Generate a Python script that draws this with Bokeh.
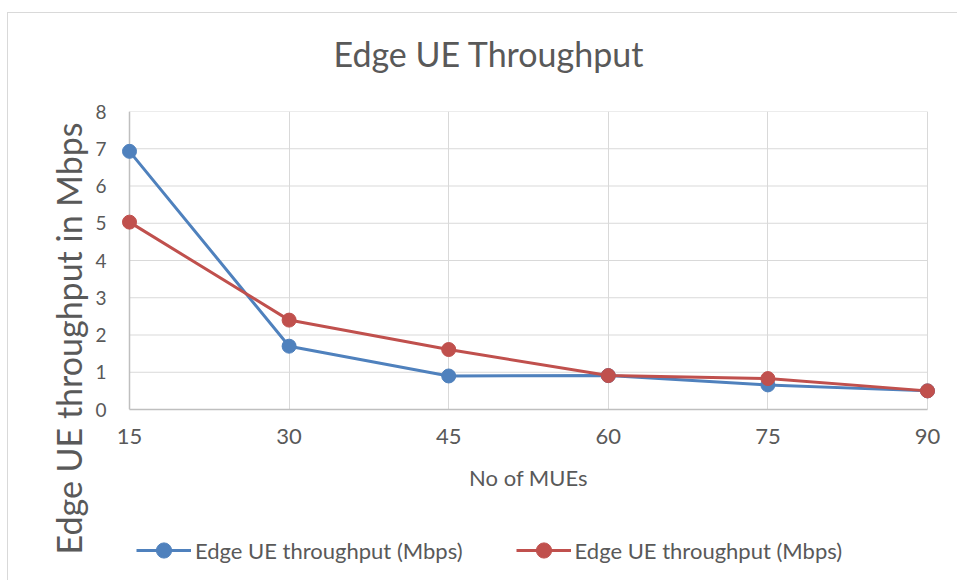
import math
from bokeh.plotting import figure
from bokeh.layouts import column, row
from bokeh.models import Label, Legend, LegendItem, FixedTicker, Range1d, Span
from bokeh.embed import file_html
from bokeh.resources import INLINE

# Number of macro UEs and the measured edge-UE throughput of two runs
mues = [15, 30, 45, 60, 75, 90]
throughput_a = [6.93, 1.70, 0.90, 0.91, 0.66, 0.50]
throughput_b = [5.03, 2.40, 1.61, 0.91, 0.83, 0.50]
series_labels = ["Edge UE throughput (Mbps)", "Edge UE throughput (Mbps)"]
x_ticks = [15, 30, 45, 60, 75, 90]
y_ticks = [0, 1, 2, 3, 4, 5, 6, 7, 8]

title_text = "Edge UE Throughput"
x_label = "No of MUEs"
y_label = "Edge UE throughput in Mbps"

FONT = "Lato"
TEXT = "#595959"
BLUE = "#4f81bd"
RED = "#c0504d"
GRID = "#d9d9d9"
AXIS = "#bfbfbf"
colors = [BLUE, RED]
series = [throughput_a, throughput_b]

# borders of the main chart; the legend strip below shares them
BORDER_L, BORDER_R = 28, 21


def blank(width, height, **borders):
    f = figure(width=width, height=height, output_backend="svg",
               toolbar_location=None, x_range=Range1d(0, 1), y_range=Range1d(0, 1),
               outline_line_color=None, **borders)
    f.axis.visible = False
    f.grid.visible = False
    return f


# ---- title strip ----
title_fig = blank(950, 78, min_border=0)
title_fig.add_layout(Label(x=325, y=38, x_units="screen", y_units="screen",
                           text=title_text, text_font=FONT, text_font_size="34px",
                           text_color=TEXT, text_align="left", text_baseline="middle"))

# ---- vertical axis title strip ----
ylab_fig = blank(83, 490, min_border=0)
ylab_fig.add_layout(Label(x=60, y=243, x_units="screen", y_units="screen",
                          text=y_label, text_font=FONT, text_font_size="34px",
                          text_color=TEXT, text_align="center", text_baseline="middle",
                          angle=math.pi / 2))

# ---- main chart ----
pad = 0.94  # keeps end markers clear of the frame edge
p = figure(width=867, height=435, output_backend="svg", toolbar_location=None,
           x_range=Range1d(x_ticks[0] - pad, x_ticks[-1] + pad),
           y_range=Range1d(y_ticks[0], y_ticks[-1]),
           min_border_left=BORDER_L, min_border_right=BORDER_R,
           min_border_top=20, min_border_bottom=117)
p.outline_line_color = None
p.background_fill_color = "white"
p.border_fill_color = "white"

# grid: vertical lines from the grid, horizontal lines limited to 15..90
p.xgrid.ticker = FixedTicker(ticks=x_ticks)
p.xgrid.grid_line_color = GRID
p.xgrid.grid_line_width = 1
p.ygrid.visible = False
p.segment(x0=[x_ticks[0]] * len(y_ticks), y0=y_ticks,
          x1=[x_ticks[-1]] * len(y_ticks), y1=y_ticks,
          line_color=GRID, line_width=1, level="underlay")

# x axis
xa = p.xaxis[0]
xa.ticker = FixedTicker(ticks=x_ticks)
xa.bounds = (x_ticks[0], x_ticks[-1])
xa.axis_line_color = AXIS
xa.axis_line_width = 1.5
xa.major_tick_line_color = None
xa.minor_tick_line_color = None
xa.major_tick_out = 0
xa.major_tick_in = 0
xa.major_label_standoff = 19
xa.major_label_text_font = FONT
xa.major_label_text_font_size = "22px"
xa.major_label_text_color = TEXT
xa.axis_label = x_label
xa.axis_label_text_font = FONT
xa.axis_label_text_font_size = "22px"
xa.axis_label_text_font_style = "normal"
xa.axis_label_text_color = TEXT
xa.axis_label_standoff = 17

# y axis
ya = p.yaxis[0]
ya.ticker = FixedTicker(ticks=y_ticks)
ya.axis_line_color = None
ya.major_tick_line_color = None
ya.minor_tick_line_color = None
ya.major_tick_out = 0
ya.major_tick_in = 0
ya.major_label_standoff = 13
ya.major_label_text_font = FONT
ya.major_label_text_font_size = "19px"
ya.major_label_text_color = TEXT

# left axis line sits at the first category
p.add_layout(Span(location=x_ticks[0], dimension="height",
                  line_color=AXIS, line_width=1.5, level="underlay"))

# series
for ys, col in zip(series, colors):
    p.line(mues, ys, line_color=col, line_width=3)
    p.scatter(mues, ys, size=14, fill_color=col, line_color=col)

# ---- legend strip ----
leg = blank(867, 55, min_border_left=BORDER_L, min_border_right=BORDER_R,
            min_border_top=0, min_border_bottom=0)
items = []
for lab, col in zip(series_labels, colors):
    # swatch renderers sit outside the visible range; only the legend shows them
    r1 = leg.line(x=[-5, -4], y=[-5, -5], line_color=col, line_width=3)
    r2 = leg.scatter(x=[-5], y=[-5], size=14, fill_color=col, line_color=col)
    items.append(LegendItem(label=lab, renderers=[r1, r2]))
legend = Legend(items=items, orientation="horizontal", location=(17, 12),
                label_text_font=FONT, label_text_font_size="22px",
                label_text_color=TEXT, glyph_width=55, glyph_height=38,
                label_standoff=4, spacing=53, padding=0, margin=0,
                border_line_color=None, background_fill_alpha=0)
leg.add_layout(legend)

page = column(title_fig, row(ylab_fig, column(p, leg, spacing=0), spacing=0), spacing=0)
page.styles = {"margin-left": "7px", "margin-top": "12px",
               "border-left": "1px solid #d9d9d9", "border-top": "1px solid #d9d9d9"}

open("out.html", "w").write(file_html(page, INLINE))
